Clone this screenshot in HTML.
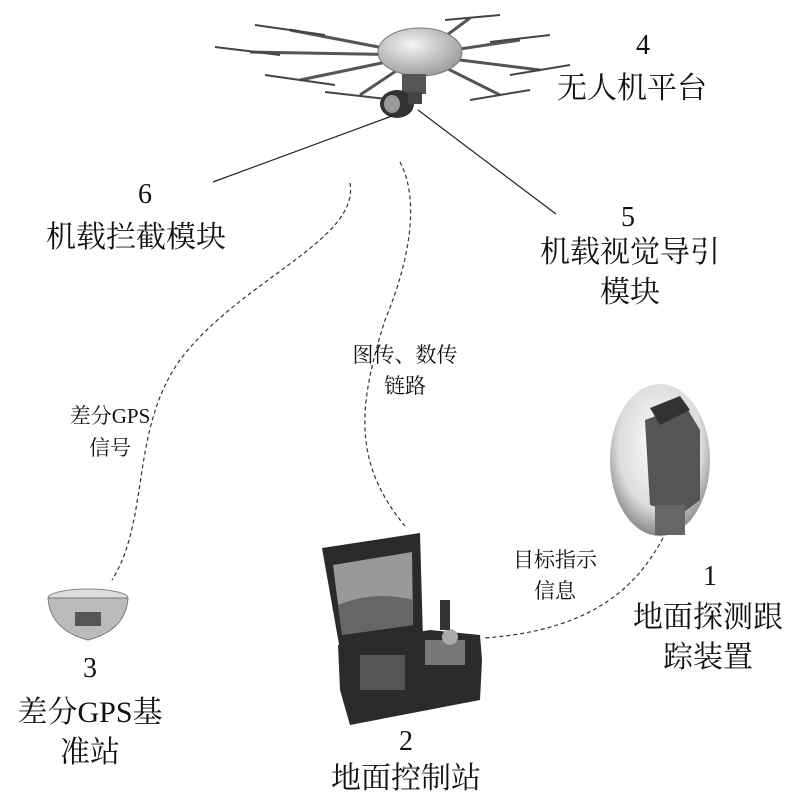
<!DOCTYPE html>
<html><head><meta charset="utf-8"><style>
html,body{margin:0;padding:0;background:#fff;}
svg{display:block}
.t{font-family:"Liberation Serif","Noto Serif CJK SC","Noto Sans CJK SC",serif;fill:#111;text-anchor:middle}
</style></head><body>
<svg width="800" height="800" viewBox="0 0 800 800" xmlns="http://www.w3.org/2000/svg">
<defs>
<radialGradient id="g1" cx="40%" cy="35%" r="70%"><stop offset="0" stop-color="#f4f4f4"/><stop offset="1" stop-color="#999"/></radialGradient>
<radialGradient id="g2" cx="50%" cy="40%" r="60%"><stop offset="0" stop-color="#fff"/><stop offset="0.7" stop-color="#ddd"/><stop offset="1" stop-color="#888"/></radialGradient>
</defs>
<g stroke="#555" stroke-width="3" fill="none">
<line x1="420" y1="55" x2="290" y2="30"/>
<line x1="420" y1="55" x2="250" y2="52"/>
<line x1="420" y1="55" x2="300" y2="80"/>
<line x1="420" y1="55" x2="360" y2="95"/>
<line x1="420" y1="55" x2="500" y2="95"/>
<line x1="420" y1="55" x2="540" y2="70"/>
<line x1="420" y1="55" x2="520" y2="40"/>
<line x1="420" y1="55" x2="470" y2="18"/>
</g>
<g stroke="#444" stroke-width="2">
<line x1="255" y1="25" x2="325" y2="35"/>
<line x1="215" y1="47" x2="280" y2="55"/>
<line x1="265" y1="75" x2="335" y2="85"/>
<line x1="325" y1="92" x2="395" y2="100"/>
<line x1="470" y1="100" x2="530" y2="90"/>
<line x1="510" y1="75" x2="570" y2="65"/>
<line x1="490" y1="42" x2="550" y2="35"/>
<line x1="445" y1="20" x2="500" y2="15"/>
</g>
<ellipse cx="420" cy="52" rx="42" ry="24" fill="url(#g1)" stroke="#777"/>
<rect x="402" y="74" width="24" height="20" fill="#555"/>
<ellipse cx="397" cy="104" rx="17" ry="14" fill="#333"/>
<ellipse cx="392" cy="104" rx="8" ry="9" fill="#999"/>
<rect x="408" y="92" width="14" height="12" fill="#444"/>
<line x1="392" y1="116" x2="213" y2="182" stroke="#222" stroke-width="1.2"/>
<line x1="418" y1="110" x2="556" y2="214" stroke="#222" stroke-width="1.2"/>
<g fill="none" stroke="#333" stroke-width="1.2" stroke-dasharray="4,3">
<path d="M350 183 C360 240 240 280 180 360 C130 430 150 520 112 580"/>
<path d="M400 162 C420 200 410 260 385 320 C360 400 350 460 405 526"/>
<path d="M663 538 C640 580 600 630 484 638"/>
</g>
<text class="t" x="643" y="54" font-size="28">4</text>
<text class="t" x="632" y="98" font-size="30">无人机平台</text>
<text class="t" x="145" y="203" font-size="28">6</text>
<text class="t" x="136" y="247" font-size="30">机载拦截模块</text>
<text class="t" x="628" y="226" font-size="28">5</text>
<text class="t" x="630" y="262" font-size="30">机载视觉导引</text>
<text class="t" x="630" y="302" font-size="30">模块</text>
<text class="t" x="405" y="362" font-size="21">图传、数传</text>
<text class="t" x="405" y="393" font-size="21">链路</text>
<text class="t" x="110" y="423" font-size="21">差分GPS</text>
<text class="t" x="110" y="455" font-size="21">信号</text>
<text class="t" x="555" y="567" font-size="21">目标指示</text>
<text class="t" x="555" y="598" font-size="21">信息</text>
<text class="t" x="710" y="585" font-size="28">1</text>
<text class="t" x="708" y="627" font-size="30">地面探测跟</text>
<text class="t" x="708" y="667" font-size="30">踪装置</text>
<text class="t" x="90" y="677" font-size="28">3</text>
<text class="t" x="90" y="722" font-size="30">差分GPS基</text>
<text class="t" x="90" y="762" font-size="30">准站</text>
<text class="t" x="406" y="750" font-size="28">2</text>
<text class="t" x="406" y="788" font-size="30">地面控制站</text>
<ellipse cx="660" cy="460" rx="50" ry="76" fill="url(#g2)"/>
<path d="M645 420 L685 405 L700 430 L700 500 L680 515 L650 505 Z" fill="#555"/>
<path d="M650 408 L680 396 L690 410 L660 425 Z" fill="#333"/>
<rect x="655" y="505" width="30" height="30" fill="#666"/>
<ellipse cx="88" cy="598" rx="40" ry="9" fill="#ddd" stroke="#888"/>
<path d="M48 598 Q50 630 88 640 Q126 630 128 598 Z" fill="#bbb" stroke="#777"/>
<rect x="75" y="612" width="26" height="14" fill="#555"/>
<path d="M322 548 L420 533 L423 640 L340 650 Z" fill="#2a2a2a"/>
<path d="M333 565 L412 552 L413 625 L342 635 Z" fill="#999"/>
<path d="M338 605 Q375 590 413 600 L413 625 L342 635 Z" fill="#666"/>
<path d="M338 645 L430 630 L480 635 L482 660 L480 700 L350 725 L340 690 Z" fill="#2b2b2b"/>
<rect x="360" y="655" width="45" height="35" fill="#555"/>
<rect x="425" y="640" width="40" height="25" fill="#777"/>
<circle cx="450" cy="637" r="8" fill="#aaa"/>
<rect x="440" y="600" width="10" height="30" fill="#333"/>
</svg>
</body></html>
